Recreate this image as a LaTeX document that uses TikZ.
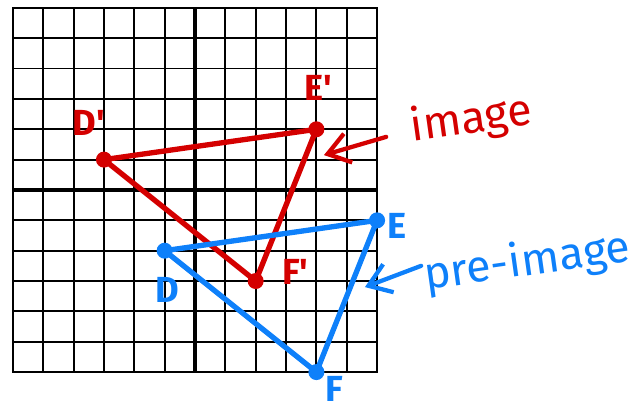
\documentclass[tikz,border=0pt]{standalone}
\usepackage{fontspec}
\setmainfont{Fira Sans}
\usetikzlibrary{arrows.meta}
\definecolor{imgred}{RGB}{212,0,0}
\definecolor{preblue}{RGB}{14,128,250}
\tikzset{
  gridln/.style={black, line width=1.7pt},
  axisln/.style={black, line width=3.5pt},
  side/.style={line width=5pt, line cap=round, line join=round},
  vdot/.style={circle, inner sep=0pt, minimum size=15pt},
  vlab/.style={inner sep=0pt, font=\fontsize{34}{34}\selectfont\bfseries},
  tagarr/.style={line width=4pt, line cap=round, line join=round,
                 -{Straight Barb[length=20pt, width=28pt]}},
  tagtxt/.style={inner sep=0pt, font=\fontsize{42}{42}\selectfont, rotate=8},
}

\begin{document}
\begin{tikzpicture}
  \useasboundingbox (-6.425,-7.315) rectangle (14.63,6.26);
  % coordinate grid
  \draw[gridln] (-6,-6) grid (6,6);
  \draw[line width=2.2pt] (-6,-6) rectangle (6,6);
  \draw[axisln] (-6,0) -- (6,0);
  \draw[axisln] (0,-6) -- (0,6);

  % image (red)
  \node[vdot, fill=imgred] (Dp) at (-3,1) {};
  \node[vdot, fill=imgred] (Ep) at (4,2) {};
  \node[vdot, fill=imgred] (Fp) at (2,-3) {};
  \draw[side, imgred] (Dp.center) -- (Ep.center) -- (Fp.center) -- cycle;
  \node[vlab, text=imgred] (DpLab) at (-3.5,2.2) {D\textquotesingle};
  \node[vlab, text=imgred] (EpLab) at (4.05,3.35) {E\textquotesingle};
  \node[vlab, text=imgred] (FpLab) at (3.3,-2.7) {F\textquotesingle};

  % pre-image (blue)
  \node[vdot, fill=preblue] (D) at (-1,-2) {};
  \node[vdot, fill=preblue] (E) at (6,-1) {};
  \node[vdot, fill=preblue] (F) at (4,-6) {};
  \draw[side, preblue] (D.center) -- (E.center) -- (F.center) -- cycle;
  \node[vlab, text=preblue] (DLab) at (-0.9,-3.3) {D};
  \node[vlab, text=preblue] (ELab) at (6.65,-1.2) {E};
  \node[vlab, text=preblue] (FLab) at (4.6,-6.55) {F};

  % tags
  \coordinate (imgTail) at (6.3,1.75);
  \coordinate (imgTip) at (4.25,1.15);
  \draw[tagarr, imgred] (imgTail) -- (imgTip);
  \node[tagtxt, text=imgred] (imgTag) at (9.1,2.3) {image};

  \coordinate (preTail) at (7.45,-2.5);
  \coordinate (preTip) at (5.6,-3.2);
  \draw[tagarr, preblue] (preTail) -- (preTip);
  \node[tagtxt, text=preblue] (preTag) at (10.95,-2.4) {pre-image};
\end{tikzpicture}
\end{document}
